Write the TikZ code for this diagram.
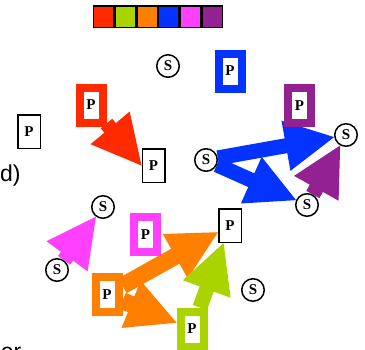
\documentclass[tikz,border=0pt]{standalone}
\usepackage{fontspec}
\setmainfont{Liberation Serif}
\newfontfamily\sansf{Liberation Sans}
\usetikzlibrary{calc,backgrounds}
\definecolor{cred}{HTML}{FF2A00}
\definecolor{clime}{HTML}{AAD400}
\definecolor{corange}{HTML}{FF7F00}
\definecolor{cblue}{HTML}{0433FF}
\definecolor{cmag}{HTML}{FF40FF}
\definecolor{cpurp}{HTML}{942192}
\tikzset{
  lbl/.style={font=\bfseries\fontsize{15}{15}\selectfont},
  pbox/.style={lbl, draw, line width=8pt, fill=white, minimum width=23pt, minimum height=35pt, inner sep=0pt},
  pblack/.style={pbox, draw=black, line width=1.5pt, minimum width=22.5pt, minimum height=33.5pt},
  snode/.style={lbl, circle, draw=black, line width=1.5pt, fill=white, minimum size=22.5pt, inner sep=0pt},
  swatch/.style={draw=black, line width=1.5pt, minimum width=20.2pt, minimum height=21.5pt, inner sep=0pt},
  shaft/.style={line width=15pt},
  thickshaft/.style={line width=17pt},
  side/.style={font=\sansf\fontsize{23}{23}\selectfont, inner sep=0pt, anchor=base west}
}
% #1 colour/options, #2 from, #3 to, #4 name prefix
\newcommand\myconn[4]{%
  \path (#2) -- (#3) coordinate[pos=0] (#4s) coordinate[pos=1] (#4t);
  \draw[shaft, #1] (#4s) -- ($(#4t)!47pt!(#4s)$);
  \fill[#1] (#4t) -- ($(#4t)!49pt!(#4s)!25.5pt!90:(#4t)$) -- ($(#4t)!49pt!(#4s)!25.5pt!-90:(#4t)$) -- cycle;
}
\begin{document}
\begin{tikzpicture}[x=1pt,y=-1pt]
\useasboundingbox (0,0) rectangle (365,349);
% colour bar
\node[swatch, fill=cred]    (sw1) at (103.8,16.5) {};
\node[swatch, fill=clime]   (sw2) at (125.5,16.5) {};
\node[swatch, fill=corange] (sw3) at (147.2,16.5) {};
\node[swatch, fill=cblue]   (sw4) at (168.8,16.5) {};
\node[swatch, fill=cmag]    (sw5) at (190.5,16.5) {};
\node[swatch, fill=cpurp]   (sw6) at (212.2,16.5) {};
% P boxes
\node[pbox, draw=cblue]   (pblue) at (230,71) {P};
\node[pbox, draw=cpurp]   (ppurp) at (299.5,105.5) {P};
\node[pbox, draw=cred]    (pred)  at (91,105) {P};
\node[pblack]             (pl)    at (29,131.5) {P};
\node[pblack]             (pc)    at (153.5,165.5) {P};
\node[pblack]             (pr)    at (230,225.5) {P};
\node[pbox, draw=cmag]    (pmag)  at (145.5,234.5) {P};
\node[pbox, draw=corange] (por)   at (107,294.5) {P};
\node[pbox, draw=clime]   (plime) at (192,329) {P};
% S circles
\node[snode] (s1) at (168,66) {S};
\node[snode] (s2) at (206,160) {S};
\node[snode] (s3) at (346,135) {S};
\node[snode] (s4) at (307,205) {S};
\node[snode] (s5) at (103,207) {S};
\node[snode] (s6) at (57,270) {S};
\node[snode] (s7) at (253,290) {S};
% side texts
\node[side] (td) at (0,181) {d)};
\node[side] (ter) at (0.6,359.6) {er};
% connectors
\begin{pgfonlayer}{background}
\myconn{cred}{pred}{pc.west}{ra}
\myconn{cblue}{s2}{s3}{ba}
\myconn{cblue}{s2}{s4}{bb}
\myconn{cpurp}{s4}{s3}{pa}
\myconn{cmag}{s6}{s5}{ma}
\myconn{corange, thickshaft}{por}{pr}{oa}
\myconn{corange, thickshaft}{por}{plime}{ob}
\myconn{clime}{plime}{pr}{la}
\end{pgfonlayer}
\end{tikzpicture}
\end{document}
